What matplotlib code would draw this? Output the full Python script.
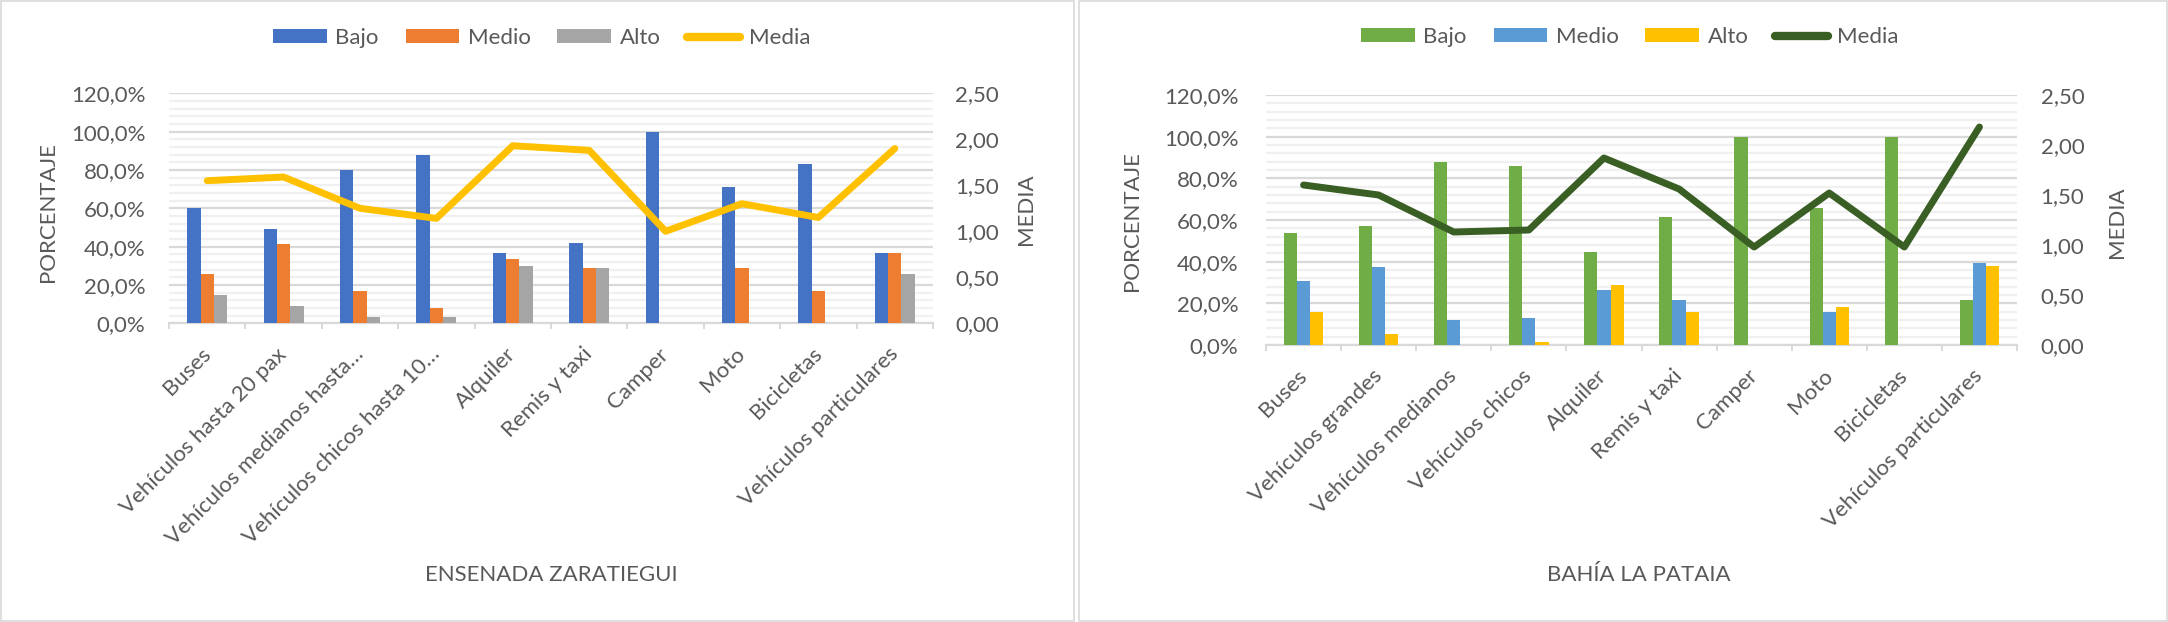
import matplotlib
matplotlib.use("Agg")
import matplotlib.pyplot as plt
import numpy as np
from matplotlib.ticker import MultipleLocator, FuncFormatter, FixedLocator
from matplotlib.patches import Patch, Rectangle
from matplotlib.lines import Line2D

plt.rcParams['font.family'] = ['Lato', 'DejaVu Sans']

# ---------------- data ----------------
series_names = ["Bajo", "Medio", "Alto", "Media"]

cats_left = ["Buses", "Vehículos hasta 20 pax", "Vehículos medianos hasta…",
             "Vehículos chicos hasta 10…", "Alquiler", "Remis y taxi", "Camper",
             "Moto", "Bicicletas", "Vehículos particulares"]
bajo_left = [60.0, 49.0, 80.0, 87.7, 36.5, 42.0, 100.0, 71.0, 83.0, 36.5]
medio_left = [25.6, 41.2, 16.7, 8.0, 33.4, 29.0, 0.0, 29.0, 16.7, 36.5]
alto_left = [14.8, 9.2, 3.5, 3.5, 30.0, 29.0, 0.0, 0.0, 0.0, 25.6]
media_left = [1.55, 1.59, 1.25, 1.14, 1.93, 1.88, 1.00, 1.30, 1.15, 1.90]
title_left = "ENSENADA ZARATIEGUI"

cats_right = ["Buses", "Vehículos grandes", "Vehículos medianos", "Vehículos chicos",
              "Alquiler", "Remis y taxi", "Camper", "Moto", "Bicicletas",
              "Vehículos particulares"]
bajo_right = [54.0, 57.3, 88.0, 86.0, 44.6, 61.4, 100.0, 65.8, 100.0, 21.4]
medio_right = [30.7, 37.3, 12.0, 12.8, 26.6, 21.4, 0.0, 16.0, 0.0, 39.4]
alto_right = [16.0, 5.4, 0.0, 1.3, 28.6, 16.0, 0.0, 18.4, 0.0, 38.1]
media_right = [1.60, 1.50, 1.13, 1.15, 1.87, 1.56, 0.98, 1.52, 0.98, 2.18]
title_right = "BAHÍA LA PATAIA"

W, H = 2168, 622
fig = plt.figure(figsize=(W / 100, H / 100), dpi=100)
fig.patch.set_facecolor("white")

TXT = "#595959"
FS = 16


def px2fig(x, y):
    return x / W, 1 - y / H


def draw(rect, cats, b, m, a, med, colors, line_color, title, lpad, rpad,
         legend_xy, title_xy, ylab_xy, y2lab_xy):
    ax = fig.add_axes(rect)
    x = np.arange(len(cats))
    w = 0.175
    for off, vals, c, name in zip((-w, 0, w), (b, m, a), colors, series_names[:3]):
        ax.bar(x + off, vals, w, color=c, label=name, zorder=3)
    ax.set_xlim(-0.5, len(cats) - 0.5)
    ax.set_ylim(0, 120)
    ax.yaxis.set_major_locator(MultipleLocator(20))
    ax.yaxis.set_minor_locator(MultipleLocator(4))
    ax.yaxis.set_major_formatter(FuncFormatter(lambda v, p: f"{v:.1f}%".replace(".", ",")))
    ax.grid(which="major", axis="y", color="#d9d9d9", lw=1.6, zorder=0)
    ax.grid(which="minor", axis="y", color="#f0f0f0", lw=1.6, zorder=0)
    ax.set_axisbelow(True)
    for s in ("top", "left", "right"):
        ax.spines[s].set_visible(False)
    ax.spines["bottom"].set_color("#d9d9d9")
    ax.spines["bottom"].set_linewidth(1.6)
    ax.tick_params(axis="y", which="both", length=0, labelsize=FS, labelcolor=TXT, pad=lpad)
    ax.set_xticks(x)
    ax.set_xticklabels(cats, rotation=45, ha="right", va="center", rotation_mode="anchor")
    ax.xaxis.set_minor_locator(FixedLocator(np.arange(len(cats) + 1) - 0.5))
    ax.tick_params(axis="x", which="major", length=0, labelsize=FS, labelcolor=TXT, pad=20)
    ax.tick_params(axis="x", which="minor", length=4, width=1.4, color="#d9d9d9", direction="out")

    ax2 = ax.twinx()
    ax2.plot(x, med, color=line_color, lw=5, solid_joinstyle="round",
             solid_capstyle="round", zorder=5)
    ax2.set_ylim(0, 2.5)
    ax2.yaxis.set_major_locator(MultipleLocator(0.5))
    ax2.yaxis.set_major_formatter(FuncFormatter(lambda v, p: f"{v:.2f}".replace(".", ",")))
    for s in ax2.spines.values():
        s.set_visible(False)
    ax2.tick_params(axis="y", length=0, labelsize=FS, labelcolor=TXT, pad=rpad)

    handles = [Patch(facecolor=c, edgecolor="none") for c in colors]
    handles.append(Line2D([0], [0], color=line_color, lw=6, solid_capstyle="round"))
    fig.legend(handles, series_names, loc="center", bbox_to_anchor=px2fig(*legend_xy),
               ncol=4, frameon=False, fontsize=FS, handlelength=2.4, handleheight=0.6,
               handletextpad=0.4, columnspacing=1.2, labelcolor=TXT)

    tx, ty = px2fig(*title_xy)
    fig.text(tx, ty, title, ha="center", va="center", fontsize=FS, color=TXT)
    lx, ly = px2fig(*ylab_xy)
    fig.text(lx, ly, "PORCENTAJE", ha="center", va="center", rotation=90, fontsize=FS, color=TXT)
    rx, ry = px2fig(*y2lab_xy)
    fig.text(rx, ry, "MEDIA", ha="center", va="center", rotation=90, fontsize=FS, color=TXT)
    return ax


# left chart
l0, t0 = 169, 93.3
r0, b0 = 933, 323.3
draw([l0 / W, 1 - b0 / H, (r0 - l0) / W, (b0 - t0) / H], cats_left,
     bajo_left, medio_left, alto_left, media_left,
     ["#4472C4", "#ED7D31", "#A5A5A5"], "#FFC000", title_left,
     lpad=17, rpad=16, legend_xy=(542, 38), title_xy=(551, 575),
     ylab_xy=(48, 212), y2lab_xy=(1026, 209))

# right chart
l1, t1 = 1266, 95
r1, b1 = 2017, 345
draw([l1 / W, 1 - b1 / H, (r1 - l1) / W, (b1 - t1) / H], cats_right,
     bajo_right, medio_right, alto_right, media_right,
     ["#70AD47", "#5B9BD5", "#FFC000"], "#3A5F24", title_right,
     lpad=20, rpad=17, legend_xy=(1630, 37), title_xy=(1639, 575),
     ylab_xy=(1132, 221), y2lab_xy=(2117, 222))

# panel borders
fig.add_artist(Rectangle((1 / W, 1 / H), 1073 / W, 1 - 2 / H, transform=fig.transFigure,
                         fill=False, edgecolor="#d9d9d9", lw=1.2))
fig.add_artist(Rectangle((1079 / W, 1 / H), (W - 1080) / W, 1 - 2 / H, transform=fig.transFigure,
                         fill=False, edgecolor="#d9d9d9", lw=1.2))

fig.savefig("out.png", dpi=100, facecolor="white")
